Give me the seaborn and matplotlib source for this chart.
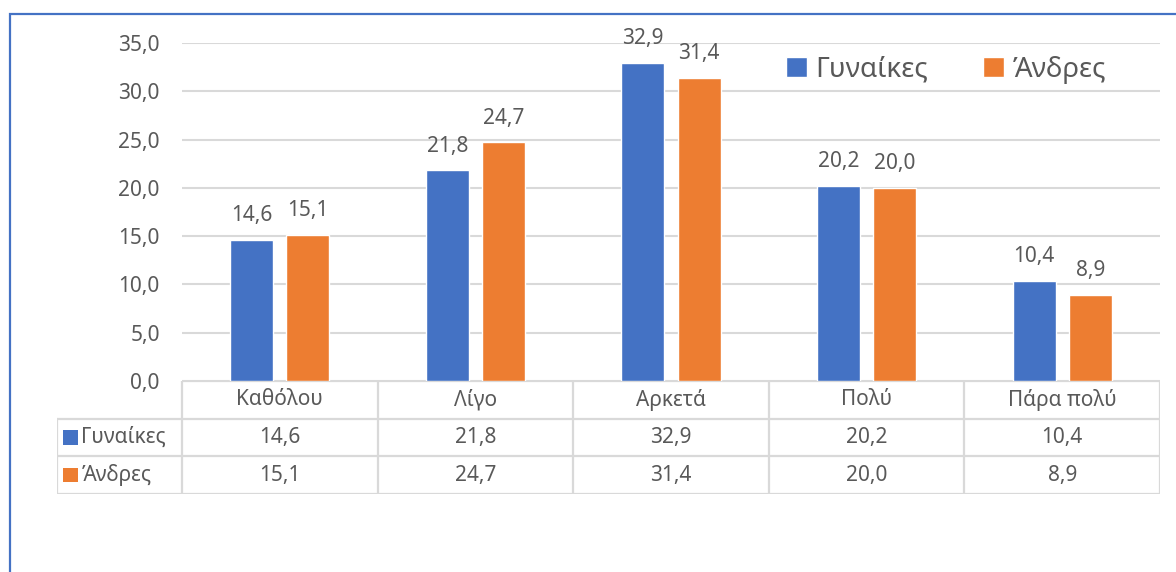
import matplotlib
matplotlib.use("Agg")
import matplotlib.pyplot as plt
import seaborn as sns
import pandas as pd
from matplotlib.patches import Rectangle

categories = ["Καθόλου", "Λίγο", "Αρκετά", "Πολύ", "Πάρα πολύ"]
series_names = ["Γυναίκες", "Άνδρες"]
women = [14.6, 21.8, 32.9, 20.2, 10.4]
men = [15.1, 24.7, 31.4, 20.0, 8.9]
yticks = [0, 5, 10, 15, 20, 25, 30, 35]

BLUE = "#4472C4"
ORANGE = "#ED7D31"
TXT = "#595959"
GRID = "#D9D9D9"

sns.set_theme(style="white")
plt.rcParams["font.family"] = ["Noto Sans", "DejaVu Sans"]

FS = 15

def fmt(v):
    return f"{v:.1f}".replace(".", ",")

df = pd.DataFrame({
    "cat": categories * 2,
    "series": [series_names[0]] * 5 + [series_names[1]] * 5,
    "val": women + men,
})

W, H = 1176, 572
fig = plt.figure(figsize=(W / 100, H / 100), dpi=100)

def fx(px):
    return px / W

def fy(py):
    return 1 - py / H

# plot area
ax = fig.add_axes([fx(182), fy(381), fx(1160) - fx(182), fy(43) - fy(381)])
sns.barplot(data=df, x="cat", y="val", hue="series", order=categories,
            hue_order=series_names, palette=[BLUE, ORANGE], width=0.573,
            gap=0.232, ax=ax, legend=True, saturation=1, errorbar=None)
ax.set_xlim(-0.5, len(categories) - 0.5)
ax.set_ylim(0, 35)
ax.set_yticks(yticks)
ax.set_yticklabels([fmt(v) for v in yticks], color=TXT, fontsize=FS)
ax.tick_params(axis="y", length=0, pad=16)
ax.set_xticks([])
ax.set_xlabel("")
ax.set_ylabel("")
for s in ax.spines.values():
    s.set_visible(False)
ax.grid(axis="y", color=GRID, linewidth=1.5)
ax.set_axisbelow(True)

for cont, vals in zip(ax.containers, [women, men]):
    ax.bar_label(cont, labels=[fmt(v) for v in vals], padding=10,
                 color=TXT, fontsize=FS)

leg = ax.legend(loc="center right", bbox_to_anchor=(fx(1106), fy(70)),
                bbox_transform=fig.transFigure, ncol=2,
                frameon=False, fontsize=20, handlelength=0.75,
                handleheight=0.75, handletextpad=0.3, columnspacing=2.0,
                labelcolor=TXT, borderpad=0, borderaxespad=0)

# table
unit = (1160 - 182) / len(categories)
left_units = -0.5 - (182 - 57) / unit
tax = fig.add_axes([fx(57), fy(494), fx(1160) - fx(57), fy(381) - fy(494)])
tax.set_xlim(left_units, len(categories) - 0.5)
tax.set_ylim(3, 0)
tax.axis("off")
lw = 1.6
tax.plot([-0.5, len(categories) - 0.5], [0, 0], color=GRID, lw=lw)
for yy in [1, 2, 3]:
    tax.plot([left_units, len(categories) - 0.5], [yy, yy], color=GRID, lw=lw)
for i in range(len(categories) + 1):
    tax.plot([i - 0.5, i - 0.5], [0, 3], color=GRID, lw=lw)
tax.plot([left_units, left_units], [1, 3], color=GRID, lw=lw)

for i, c in enumerate(categories):
    tax.text(i, 0.5, c, ha="center", va="center", color=TXT, fontsize=FS)
for r, (name, vals, col) in enumerate(zip(series_names, [women, men], [BLUE, ORANGE])):
    y = 1.5 + r
    tax.add_patch(Rectangle((left_units + 0.033, y - 0.19), 0.072, 0.38,
                            color=col, lw=0))
    tax.text(left_units + 0.125, y, name, ha="left", va="center",
             color=TXT, fontsize=FS)
    for i, v in enumerate(vals):
        tax.text(i, y, fmt(v), ha="center", va="center", color=TXT, fontsize=FS)

# chart border
fig.patches.append(Rectangle((fx(10), fy(600)), fx(1300) - fx(10), fy(14) - fy(600),
                             transform=fig.transFigure, fill=False,
                             edgecolor=BLUE, lw=1.6))

fig.savefig("out.png", dpi=100)
